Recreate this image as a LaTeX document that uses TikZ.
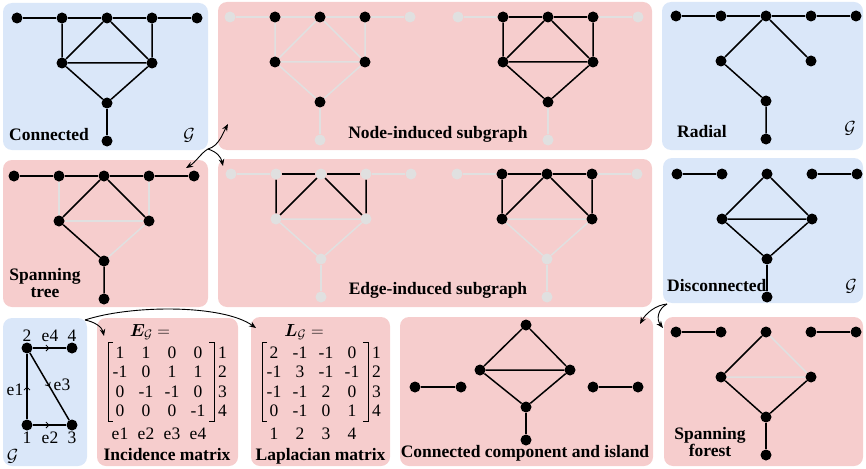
\RequirePackage{fix-cm}
\documentclass[tikz,border=0pt]{standalone}
\usepackage{fontspec}
\setmainfont{Liberation Serif}
\usepackage{amsmath,bm}
\usetikzlibrary{arrows.meta,decorations.markings}

\definecolor{panelblue}{RGB}{218,231,249}
\definecolor{panelpink}{RGB}{246,205,205}
\definecolor{ghost}{RGB}{224,224,224}

\pgfdeclarelayer{panels}
\pgfdeclarelayer{edges}
\pgfsetlayers{panels,edges,main}

\tikzset{
  bluepanel/.style={fill=panelblue, rounded corners=9pt},
  pinkpanel/.style={fill=panelpink, rounded corners=9pt},
  vtx/.style={circle, fill=black, inner sep=0pt, minimum size=11pt},
  gvtx/.style={circle, fill=ghost, inner sep=0pt, minimum size=11pt},
  edge/.style={line width=1.5pt, black},
  gedge/.style={line width=1.5pt, ghost},
  title/.style={font=\fontsize{17.5}{16.5}\selectfont\bfseries, inner sep=0pt},
  plain/.style={font=\fontsize{17.5}{21}\selectfont, inner sep=0pt},
  flow/.style={line width=0.9pt, -{Stealth[length=7pt,width=5.5pt]}},
  dir/.style={line width=1.5pt, postaction=decorate,
    decoration={markings, mark=at position 0.5 with
      {\arrow{Straight Barb[length=3pt,width=6pt,line width=0.8pt]}}}},
  bracket/.style={line width=0.8pt},
}

% Nine-vertex graph: top row t1..t5, middle m1 m2, lower lo, bottom bo.
% #3 lists, in that order, 1 for a black vertex and 0 for a faded one.
\newcommand\ninegraph[3]{%
  \begin{scope}[shift={#2}]
    \foreach \n/\x/\y [count=\i from 0] in
      {t1/0/0,t2/45/0,t3/90/0,t4/135/0,t5/180/0,m1/45/45,m2/135/45,lo/90/85,bo/90/123}{
      \pgfmathtruncatemacro\vcol{{#3}[\i]}
      \ifnum\vcol=1 \node[vtx] (#1\n) at (\x,\y) {};
      \else \node[gvtx] (#1\n) at (\x,\y) {};\fi
    }
  \end{scope}}

\begin{document}
\begin{tikzpicture}[x=1pt,y=-1pt]
\useasboundingbox (0,0) rectangle (866,468);

% ---------- panels ----------
\begin{pgfonlayer}{panels}
  \fill[bluepanel] (3,3) rectangle (208,150);
  \fill[pinkpanel] (218,2) rectangle (652,150);
  \fill[bluepanel] (662,2) rectangle (863,150);
  \fill[pinkpanel] (3,160) rectangle (208,307);
  \fill[pinkpanel] (218,159) rectangle (652,307);
  \fill[bluepanel] (663,158) rectangle (863,303);
  \fill[bluepanel] (3,318) rectangle (87,466);
  \fill[pinkpanel] (97,318) rectangle (238,466);
  \fill[pinkpanel] (251,317) rectangle (390,466);
  \fill[pinkpanel] (400,317) rectangle (653,466);
  \fill[pinkpanel] (664,317) rectangle (863,466);
\end{pgfonlayer}

% ---------- connected graph ----------
\ninegraph{c}{(17,18)}{1,1,1,1,1,1,1,1,1}
\begin{pgfonlayer}{edges}
  \draw[edge] (ct1) -- (ct2) -- (ct3) -- (ct4) -- (ct5);
  \draw[edge] (ct2) -- (cm1) -- (ct3) -- (cm2) -- (ct4);
  \draw[edge] (cm1) -- (cm2) -- (clo) -- (cm1);
  \draw[edge] (clo) -- (cbo);
\end{pgfonlayer}
\node[title, anchor=base west] (lblConn) at (9,140) {Connected};
\node[plain, anchor=base] (gConn) at (189,140) {$\mathcal{G}$};

% ---------- node-induced subgraph ----------
\ninegraph{na}{(230,17)}{0,1,1,1,0,1,1,1,0}
\ninegraph{nb}{(458,17)}{0,1,1,1,0,1,1,1,0}
\begin{pgfonlayer}{edges}
  \draw[gedge] (nat1) -- (nat2) -- (nat3) -- (nat4) -- (nat5);
  \draw[gedge] (nat2) -- (nam1) -- (nat3) -- (nam2) -- (nat4);
  \draw[gedge] (nam1) -- (nam2) -- (nalo) -- (nam1);
  \draw[gedge] (nalo) -- (nabo);
  \draw[gedge] (nbt1) -- (nbt2);
  \draw[gedge] (nbt4) -- (nbt5);
  \draw[gedge] (nblo) -- (nbbo);
  \draw[edge] (nbt2) -- (nbt3) -- (nbt4);
  \draw[edge] (nbt2) -- (nbm1) -- (nbt3) -- (nbm2) -- (nbt4);
  \draw[edge] (nbm1) -- (nbm2) -- (nblo) -- (nbm1);
\end{pgfonlayer}
\node[title, anchor=base] (lblNode) at (438,138) {Node-induced subgraph};

% ---------- radial graph ----------
\ninegraph{r}{(676,16)}{1,1,1,1,1,1,1,1,1}
\begin{pgfonlayer}{edges}
  \draw[edge] (rt1) -- (rt2) -- (rt3) -- (rt4) -- (rt5);
  \draw[edge] (rm2) -- (rt3) -- (rm1) -- (rlo) -- (rbo);
\end{pgfonlayer}
\node[title, anchor=base west] (lblRad) at (677,137) {Radial};
\node[plain, anchor=base] (gRad) at (850,133) {$\mathcal{G}$};

% ---------- spanning tree ----------
\ninegraph{s}{(14,176)}{1,1,1,1,1,1,1,1,1}
\begin{pgfonlayer}{edges}
  \draw[gedge] (st2) -- (sm1) -- (sm2) -- (st4);
  \draw[gedge] (sm2) -- (slo);
  \draw[edge] (st1) -- (st2) -- (st3) -- (st4) -- (st5);
  \draw[edge] (sm2) -- (st3) -- (sm1) -- (slo) -- (sbo);
\end{pgfonlayer}
\node[title, align=center] (lblTree) at (45,283) {Spanning\\tree};

% ---------- edge-induced subgraph ----------
\ninegraph{ea}{(231,174)}{0,0,0,0,0,0,0,0,0}
\ninegraph{eb}{(457,174)}{0,1,1,1,0,1,1,0,0}
\begin{pgfonlayer}{edges}
  \draw[gedge] (eat1) -- (eat2);
  \draw[gedge] (eat4) -- (eat5);
  \draw[gedge] (eam1) -- (eam2) -- (ealo) -- (eam1);
  \draw[gedge] (ealo) -- (eabo);
  \draw[edge] (eat2) -- (eat3) -- (eat4);
  \draw[edge] (eat2) -- (eam1) -- (eat3) -- (eam2) -- (eat4);
  \draw[gedge] (ebt1) -- (ebt2);
  \draw[gedge] (ebt4) -- (ebt5);
  \draw[gedge] (ebm1) -- (ebm2) -- (eblo) -- (ebm1);
  \draw[gedge] (eblo) -- (ebbo);
  \draw[edge] (ebt2) -- (ebt3) -- (ebt4);
  \draw[edge] (ebt2) -- (ebm1) -- (ebt3) -- (ebm2) -- (ebt4);
\end{pgfonlayer}
\node[title, anchor=base] (lblEdge) at (438,294) {Edge-induced subgraph};

% ---------- disconnected graph ----------
\ninegraph{d}{(677,174)}{1,1,1,1,1,1,1,1,1}
\begin{pgfonlayer}{edges}
  \draw[edge] (dt1) -- (dt2);
  \draw[edge] (dt4) -- (dt5);
  \draw[edge] (dm1) -- (dt3) -- (dm2) -- (dlo) -- (dm1) -- (dm2);
  \draw[edge] (dlo) -- (dbo);
\end{pgfonlayer}
\node[title, anchor=base west] (lblDisc) at (667,291) {Disconnected};
\node[plain, anchor=base] (gDisc) at (851,291) {$\mathcal{G}$};

% ---------- small directed graph ----------
\node[vtx] (v2) at (27,348) {};
\node[vtx] (v4) at (72,348) {};
\node[vtx] (v1) at (27,425) {};
\node[vtx] (v3) at (72,425) {};
\begin{pgfonlayer}{edges}
  \draw[dir] (v1) -- (v2);
  \draw[dir] (v1) -- (v3);
  \draw[dir] (v2) -- (v3);
  \draw[dir] (v2) -- (v4);
\end{pgfonlayer}
\node[plain, anchor=base] (n2) at (27,341) {2};
\node[plain, anchor=base] (ne4) at (50,341) {e4};
\node[plain, anchor=base] (n4) at (72,341) {4};
\node[plain, anchor=base] (n1) at (27,443) {1};
\node[plain, anchor=base] (ne2) at (50,443) {e2};
\node[plain, anchor=base] (n3) at (72,443) {3};
\node[plain, anchor=base] (ne1) at (15,395) {e1};
\node[plain, anchor=base] (ne3) at (62,390) {e3};
\node[plain, anchor=base] (gSmall) at (12.5,461) {$\mathcal{G}$};

% ---------- incidence matrix ----------
\node[plain, anchor=base] (incHead) at (150,336) {$\bm{E}_{\mathcal{G}} =$};
\foreach \r/\row in {1/{1,1,0,0},2/{-1,0,1,1},3/{0,-1,-1,0},4/{0,0,0,-1}}{
  \foreach \v [count=\c] in \row
    \node[plain, anchor=base] (inc-\r-\c) at ({94+26*\c},{338.5+19.5*\r}) {\v};
  \node[plain, anchor=base west] (incRow-\r) at (218,{338.5+19.5*\r}) {\r};
}
\foreach \c in {1,2,3,4}
  \node[plain, anchor=base] (incCol-\c) at ({94+26*\c},439) {e\c};
\draw[bracket] (113,342) -- (108,342) -- (108,421) -- (113,421);
\draw[bracket] (209,342) -- (214,342) -- (214,421) -- (209,421);
\node[title, anchor=base] (lblInc) at (167,460) {Incidence matrix};

% ---------- Laplacian matrix ----------
\node[plain, anchor=base] (lapHead) at (304,336) {$\bm{L}_{\mathcal{G}} =$};
\foreach \r/\row in {1/{2,-1,-1,0},2/{-1,3,-1,-1},3/{-1,-1,2,0},4/{0,-1,0,1}}{
  \foreach \v [count=\c] in \row
    \node[plain, anchor=base] (lap-\r-\c) at ({248+26*\c},{338.5+19.5*\r}) {\v};
  \node[plain, anchor=base west] (lapRow-\r) at (372,{338.5+19.5*\r}) {\r};
}
\foreach \c in {1,2,3,4}
  \node[plain, anchor=base] (lapCol-\c) at ({248+26*\c},439) {\c};
\draw[bracket] (267,342) -- (262,342) -- (262,421) -- (267,421);
\draw[bracket] (363,342) -- (368,342) -- (368,421) -- (363,421);
\node[title, anchor=base] (lblLap) at (320.5,460) {Laplacian matrix};

% ---------- connected component and island ----------
\node[vtx] (ka) at (415,387) {};
\node[vtx] (kb) at (461,387) {};
\node[vtx] (kt) at (526,325) {};
\node[vtx] (kl) at (480,370) {};
\node[vtx] (kr) at (570,370) {};
\node[vtx] (klo) at (526,407) {};
\node[vtx] (kbo) at (526,440) {};
\node[vtx] (kc) at (593,387) {};
\node[vtx] (kd) at (638,387) {};
\begin{pgfonlayer}{edges}
  \draw[edge] (ka) -- (kb);
  \draw[edge] (kc) -- (kd);
  \draw[edge] (kl) -- (kt) -- (kr) -- (klo) -- (kl) -- (kr);
  \draw[edge] (klo) -- (kbo);
\end{pgfonlayer}
\node[title, anchor=base] (lblComp) at (525,457) {Connected component and island};

% ---------- spanning forest ----------
\ninegraph{f}{(676,332)}{1,1,1,1,1,1,1,1,1}
\begin{pgfonlayer}{edges}
  \draw[gedge] (fm1) -- (fm2) -- (ft3);
  \draw[edge] (ft1) -- (ft2);
  \draw[edge] (ft4) -- (ft5);
  \draw[edge] (ft3) -- (fm1) -- (flo) -- (fm2);
  \draw[edge] (flo) -- (fbo);
\end{pgfonlayer}
\node[title, align=center] (lblForest) at (710,442) {Spanning\\forest};

% ---------- relation arrows ----------
\coordinate (hubA) at (208,149);
\coordinate (toNode) at (228,124);
\coordinate (toTree) at (186,168);
\coordinate (toEdge) at (223,166);
\draw[flow] (hubA) .. controls (219,146) and (223,133) .. (toNode);
\draw[flow] (hubA) .. controls (201,153) and (196,162) .. (toTree);
\draw[flow] (hubA) .. controls (217,152) and (221,157) .. (toEdge);

\coordinate (hubB) at (667,304);
\coordinate (toComp) at (640,324);
\coordinate (toForest) at (663,328);
\draw[flow] (hubB) .. controls (656,305) and (646,313) .. (toComp);
\draw[flow] (hubB) .. controls (658,309) and (656,319) .. (toForest);

\coordinate (hubC) at (85,320);
\coordinate (toInc) at (104,336);
\coordinate (toLap) at (256,328);
\draw[flow] (hubC) .. controls (95,322) and (102,327) .. (toInc);
\draw[flow] (hubC) .. controls (130,305) and (222,304) .. (toLap);
\end{tikzpicture}
\end{document}
